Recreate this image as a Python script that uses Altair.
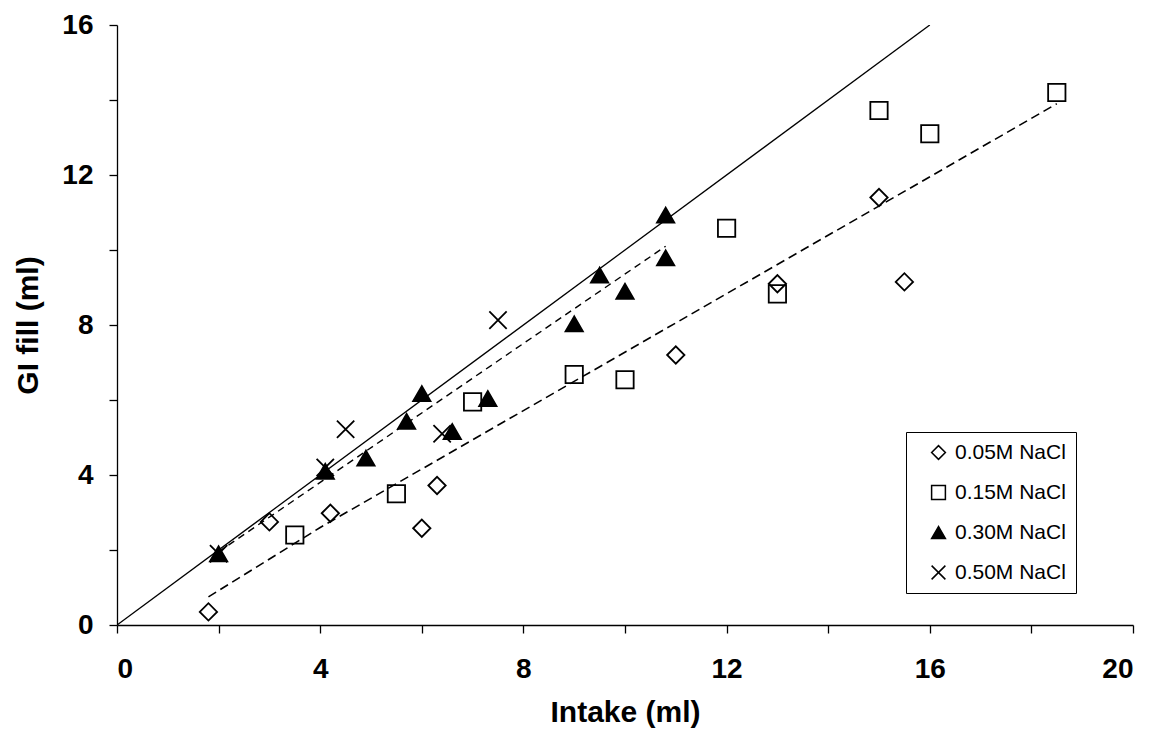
import altair as alt
import pandas as pd

series_names = ["0.05M NaCl", "0.15M NaCl", "0.30M NaCl", "0.50M NaCl"]

x_005 = [1.8, 3.0, 4.2, 6.0, 6.3, 11.0, 13.0, 15.0, 15.5]
y_005 = [0.35, 2.75, 2.98, 2.58, 3.72, 7.2, 9.1, 11.4, 9.15]

x_015 = [3.5, 5.5, 7.0, 9.0, 10.0, 12.0, 13.0, 15.0, 16.0, 18.5]
y_015 = [2.4, 3.5, 5.95, 6.68, 6.54, 10.58, 8.83, 13.72, 13.1, 14.2]

x_030 = [2.0, 4.1, 4.9, 5.7, 6.0, 6.6, 7.3, 9.0, 9.5, 10.0, 10.8, 10.8]
y_030 = [1.9, 4.1, 4.45, 5.43, 6.17, 5.16, 6.04, 8.03, 9.33, 8.9, 10.93, 9.79]

x_050 = [2.0, 4.1, 4.5, 6.4, 7.5]
y_050 = [1.9, 4.2, 5.22, 5.1, 8.13]

# reference lines
unity_x = [0, 16]
unity_y = [0, 16]
fit_hi_x = [2.0, 10.8]
fit_hi_y = [1.95, 10.1]
fit_lo_x = [1.8, 4.0, 18.5]
fit_lo_y = [0.75, 2.6, 13.9]

x_ticks = list(range(0, 21, 2))
y_ticks = list(range(0, 17, 2))

shapes = ["diamond", "square", "triangle-up", "M-1,-1L1,1M-1,1L1,-1"]
fills = ["transparent", "transparent", "black", "transparent"]
strokes = ["black", "black", "black", "black"]

rows = []
for name, xs, ys in zip(series_names, [x_005, x_015, x_030, x_050], [y_005, y_015, y_030, y_050]):
    for a, b in zip(xs, ys):
        rows.append({"series": name, "x": a, "y": b})
pts = pd.DataFrame(rows)

xscale = alt.Scale(domain=[0, 20], nice=False, zero=True)
yscale = alt.Scale(domain=[0, 16], nice=False, zero=True)
xaxis = alt.Axis(values=x_ticks, title="Intake (ml)",
                 labelExpr="datum.value % 4 == 0 ? datum.label : ''")
yaxis = alt.Axis(values=y_ticks, title="GI fill (ml)",
                 labelExpr="datum.value % 4 == 0 ? datum.label : ''")


def line_layer(xs, ys, dash, width):
    df = pd.DataFrame({"x": xs, "y": ys})
    props = dict(color="black", strokeWidth=width, clip=True)
    if dash:
        props["strokeDash"] = dash
    return alt.Chart(df).mark_line(**props).encode(
        x=alt.X("x:Q", scale=xscale, axis=xaxis),
        y=alt.Y("y:Q", scale=yscale, axis=yaxis),
    )


unity = line_layer(unity_x, unity_y, None, 1.3)
hi = line_layer(fit_hi_x, fit_hi_y, [7, 5], 1.4)
lo = line_layer(fit_lo_x, fit_lo_y, [9, 5], 1.6)

points = alt.Chart(pts).mark_point(filled=True, strokeWidth=1.8,
                                   opacity=1, size=300).encode(
    x=alt.X("x:Q", scale=xscale, axis=xaxis),
    y=alt.Y("y:Q", scale=yscale, axis=yaxis),
    shape=alt.Shape("series:N", scale=alt.Scale(domain=series_names, range=shapes),
                    legend=alt.Legend(title=None)),
    fill=alt.Fill("series:N", scale=alt.Scale(domain=series_names, range=fills),
                  legend=alt.Legend(title=None)),
    stroke=alt.Stroke("series:N", scale=alt.Scale(domain=series_names, range=strokes),
                      legend=alt.Legend(title=None)),
)

chart = alt.layer(unity, hi, lo, points).properties(
    width=1016, height=600,
    padding={"left": 5, "top": 3, "right": 5, "bottom": 5},
).configure_view(stroke=None).configure_axis(
    grid=False,
    domainColor="black", domainWidth=1.3,
    tickColor="black", tickWidth=1.3, tickSize=8,
    labelFont="Liberation Sans", labelFontWeight="bold", labelFontSize=28,
    labelColor="black",
    titleFont="Liberation Sans", titleFontWeight="bold", titleFontSize=30,
    titleColor="black",
).configure_axisX(
    labelPadding=22, titlePadding=14,
).configure_axisY(
    labelPadding=16, titlePadding=18,
).configure_legend(
    orient="none", legendX=789, legendY=407,
    strokeColor="black", fillColor="white", padding=10,
    symbolOffset=12, symbolSize=190, symbolStrokeWidth=1.5,
    symbolStrokeColor="black", symbolOpacity=1,
    labelFont="Liberation Sans", labelFontSize=21, labelColor="black",
    labelOffset=6, rowPadding=18,
)

chart.save("out.html", embed_options={"renderer": "svg", "actions": False})
